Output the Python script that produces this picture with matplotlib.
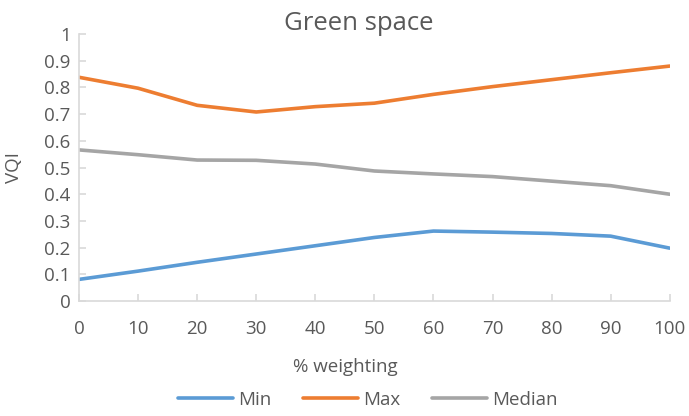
import matplotlib
matplotlib.use("Agg")
import matplotlib.pyplot as plt
from matplotlib.lines import Line2D

plt.rcParams['font.family'] = ['Open Sans', 'DejaVu Sans']

weighting = [0, 10, 20, 30, 40, 50, 60, 70, 80, 90, 100]
vqi_min = [0.081, 0.112, 0.145, 0.176, 0.207, 0.238, 0.262, 0.258, 0.253, 0.243, 0.198]
vqi_max = [0.838, 0.797, 0.733, 0.708, 0.728, 0.741, 0.774, 0.803, 0.829, 0.855, 0.880]
vqi_median = [0.566, 0.548, 0.528, 0.527, 0.513, 0.487, 0.476, 0.466, 0.449, 0.432, 0.400]

x_ticks = list(range(0, 101, 10))
y_ticks = [0, 0.1, 0.2, 0.3, 0.4, 0.5, 0.6, 0.7, 0.8, 0.9, 1]
y_tick_labels = ['0', '0.1', '0.2', '0.3', '0.4', '0.5', '0.6', '0.7', '0.8', '0.9', '1']

text_color = '#595959'
axis_color = '#D9D9D9'
colors = {'Min': '#5B9BD5', 'Max': '#ED7D31', 'Median': '#A5A5A5'}

fig = plt.figure(figsize=(6.89, 4.16), dpi=100)
ax = fig.add_axes([0.1147, 0.2764, 0.8573, 0.6418])

for name, vals in [('Min', vqi_min), ('Max', vqi_max), ('Median', vqi_median)]:
    ax.plot(weighting, vals, color=colors[name], lw=2.6, solid_capstyle='round', label=name)

ax.set_xlim(0, 100)
ax.set_ylim(0, 1)
ax.set_xticks(x_ticks)
ax.set_yticks(y_ticks)
ax.set_yticklabels(y_tick_labels)

for side in ['top', 'right']:
    ax.spines[side].set_visible(False)
for side in ['left', 'bottom']:
    ax.spines[side].set_color(axis_color)
    ax.spines[side].set_linewidth(1.2)

ax.tick_params(axis='both', direction='in', length=5, width=1.2, color=axis_color,
               labelcolor=text_color, labelsize=13.5)
ax.tick_params(axis='x', pad=14)
ax.tick_params(axis='y', pad=6)

fig.text(359 / 689, 1 - 23 / 416, 'Green space', ha='center', va='center',
         fontsize=18.5, color=text_color)
fig.text(14 / 689, 1 - 168 / 416, 'VQI', ha='center', va='center', rotation=90,
         fontsize=13.5, color=text_color)
fig.text(345 / 689, 1 - 367 / 416, '% weighting', ha='center', va='center',
         fontsize=13.5, color=text_color)

handles = [Line2D([0], [0], color=colors[n], lw=2.6, solid_capstyle='round') for n in ['Min', 'Max', 'Median']]
leg = fig.legend(handles, ['Min', 'Max', 'Median'], loc='center', bbox_to_anchor=(368 / 689, 1 - 400 / 416),
                 ncol=3, frameon=False, fontsize=13.5, handlelength=2.9, columnspacing=1.7,
                 handletextpad=0.3)
for t in leg.get_texts():
    t.set_color(text_color)

fig.savefig('out.png', dpi=100)
